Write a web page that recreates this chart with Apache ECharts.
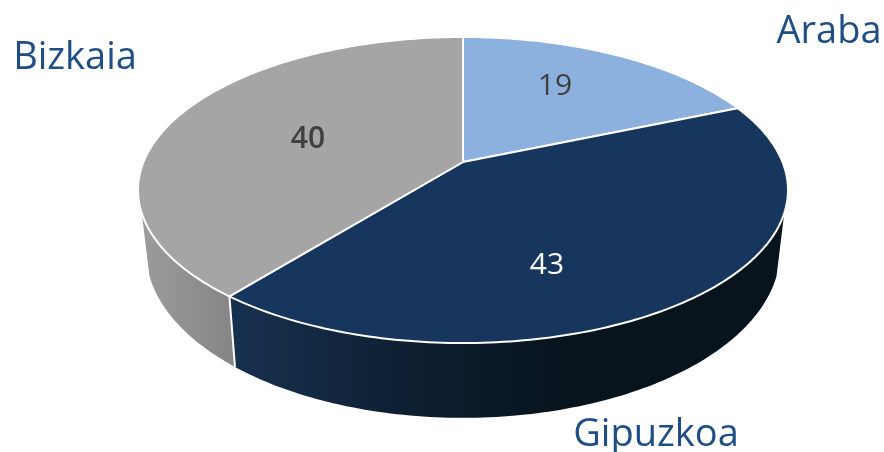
<!DOCTYPE html>
<html>
<head>
<meta charset="utf-8">
<style>html,body{margin:0;padding:0;background:#fff}#c{width:884px;height:452px}</style>
<script src="https://cdn.jsdelivr.net/npm/echarts@6/dist/echarts.min.js"></script>
</head>
<body>
<div id="c"></div>
<script>
const categories = ['Araba', 'Gipuzkoa', 'Bizkaia'];
const values = [19, 43, 40];

const topColors = ['#8DB1DF', '#17365D', '#A5A5A5'];
const wallStops = [
  [[0, '#5D7FA8'], [1, '#5D7FA8']],
  [[0, '#17304F'], [0.5, '#0E2033'], [1, '#07141E']],
  [[0, '#9C9C9C'], [1, '#858585']]
];
const wallRanges = [[235, 560], [235, 560], [140, 235]];
const nameLabelPos = [[829, 32], [656, 435], [75, 58]];
const valueLabelPos = [[555, 86], [547, 265], [308, 139]];
const valueLabelColors = ['#404040', '#FFFFFF', '#404040'];
const valueLabelWeights = [400, 400, 600];

const CX = 463, CY = 162, RX = 319.5, RY = 147.9, K = -0.183;
const WALL_FROM = 109, WALL_TO = 251;
const total = values.reduce((a, b) => a + b, 0);

function rim(deg) {
  const t = deg * Math.PI / 180, u = Math.sin(t), v = -Math.cos(t), w = 1 + K * v;
  return [CX + RX * u / w, CY + RY * v / w];
}
function floorOf(p) {
  return [CX + (p[0] - CX) * 0.976, p[1] + 58.5 + 0.09 * (p[1] - CY)];
}
function arc(a, b) {
  const pts = [];
  for (let d = a; d < b; d += 1) pts.push(rim(d));
  pts.push(rim(b));
  return pts;
}

function renderItem(params, api) {
  const i = params.dataIndex;
  let before = 0;
  for (let j = 0; j < i; j++) before += values[j];
  const a = before / total * 360, b = (before + api.value(0)) / total * 360;
  const children = [];
  const wa = Math.max(a, WALL_FROM), wb = Math.min(b, WALL_TO);
  if (wb > wa) {
    const edge = arc(wa, wb);
    const pts = edge.concat(edge.map(floorOf).reverse());
    children.push({
      type: 'polygon',
      shape: { points: pts },
      style: {
        fill: new echarts.graphic.LinearGradient(
          wallRanges[i][0], 0, wallRanges[i][1], 0,
          wallStops[i].map(s => ({ offset: s[0], color: s[1] })), true),
        stroke: null
      }
    });
    if (wa === a) {
      const p = rim(a), q = floorOf(p);
      children.push({
        type: 'line',
        shape: { x1: p[0], y1: p[1], x2: q[0], y2: q[1] },
        style: { stroke: '#FFFFFF', lineWidth: 2 }
      });
    }
  }
  children.push({
    type: 'polygon',
    shape: { points: [[CX, CY]].concat(arc(a, b)) },
    style: { fill: topColors[i], stroke: '#FFFFFF', lineWidth: 2, lineJoin: 'round' }
  });
  children.push({
    type: 'text',
    style: {
      text: String(api.value(0)), x: valueLabelPos[i][0], y: valueLabelPos[i][1],
      fill: valueLabelColors[i], align: 'center', verticalAlign: 'middle',
      font: valueLabelWeights[i] + ' 30px "Open Sans"'
    }
  });
  children.push({
    type: 'text',
    style: {
      text: categories[i], x: nameLabelPos[i][0], y: nameLabelPos[i][1],
      fill: '#1F4E84', align: 'center', verticalAlign: 'middle',
      font: '38px "Open Sans"'
    }
  });
  return { type: 'group', children };
}

const chart = echarts.init(document.getElementById('c'), null, { renderer: 'canvas' });
chart.setOption({
  animation: false,
  backgroundColor: '#FFFFFF',
  series: [{
    type: 'custom',
    coordinateSystem: 'none',
    renderItem,
    data: values.map((v, i) => ({ name: categories[i], value: [v] }))
  }]
});
</script>
</body>
</html>
